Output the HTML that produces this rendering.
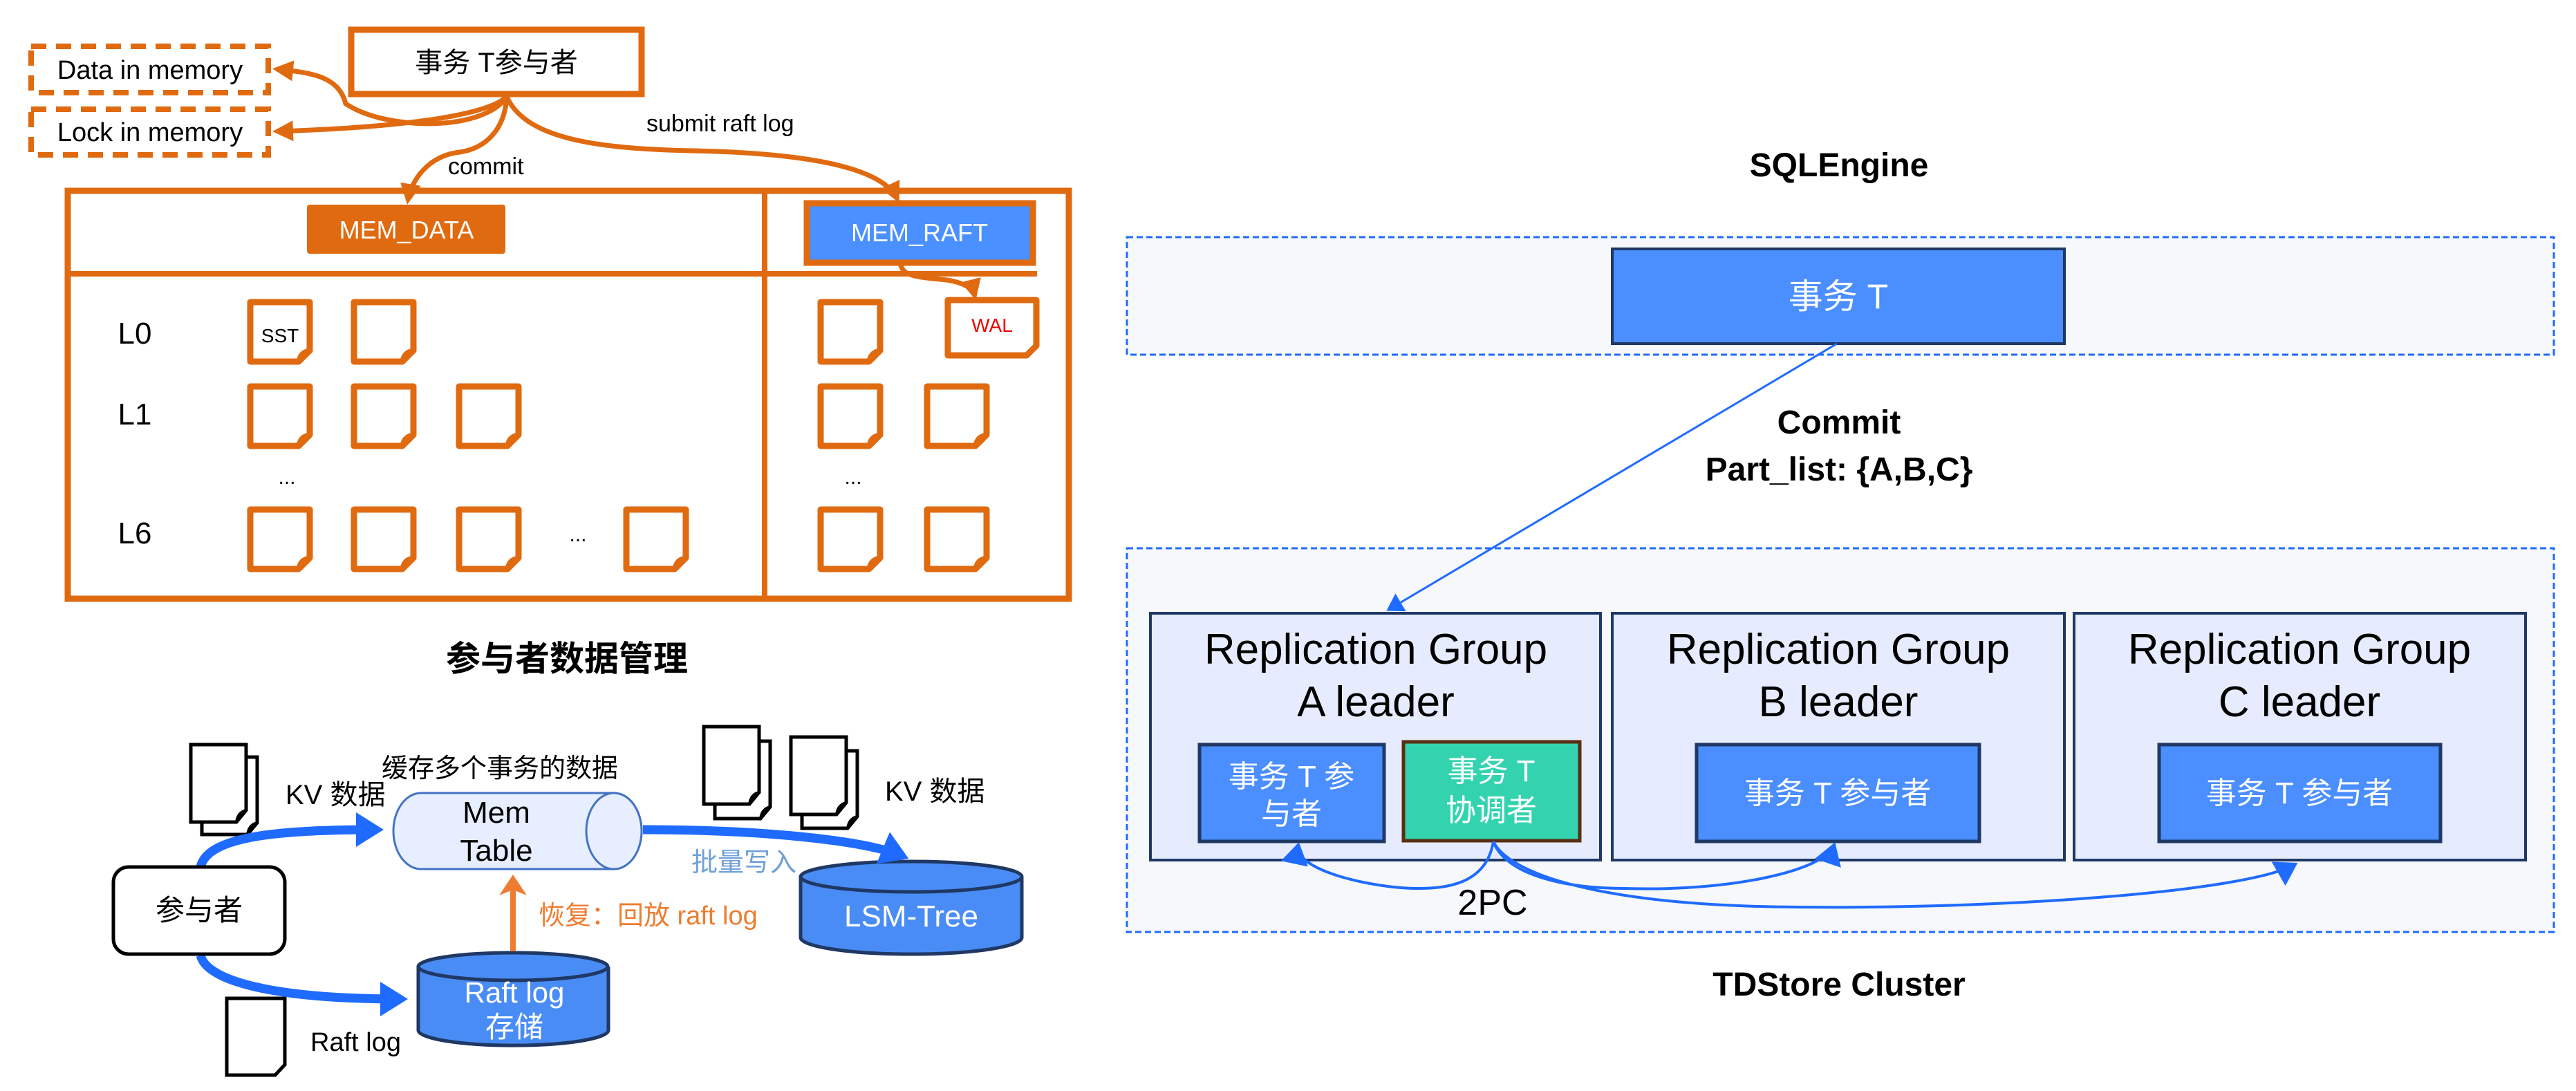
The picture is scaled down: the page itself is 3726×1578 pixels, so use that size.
<!DOCTYPE html>
<html><head><meta charset="utf-8"><style>
html,body{margin:0;padding:0;background:#fff;}
svg{display:block;}
text{font-family:"Liberation Sans","Noto Sans CJK SC",sans-serif;}
</style></head><body>
<svg width="3726" height="1578" viewBox="0 0 3726 1578" xmlns="http://www.w3.org/2000/svg">
<defs>
<marker id="ao" markerWidth="34" markerHeight="34" refX="24" refY="17" orient="auto" markerUnits="userSpaceOnUse"><path d="M0,2 L30,17 L0,32 Z" fill="#E06A10"/></marker>
<marker id="ab" markerWidth="44" markerHeight="50" refX="30" refY="25" orient="auto" markerUnits="userSpaceOnUse"><path d="M0,0 L40,25 L0,50 Z" fill="#1F6BFF"/></marker>
<marker id="ab2" markerWidth="10" markerHeight="10" refX="7" refY="5" orient="auto" markerUnits="strokeWidth"><path d="M0,0 L8,5 L0,10 Z" fill="#1F6BFF"/></marker>
<marker id="aor" markerWidth="34" markerHeight="40" refX="20" refY="20" orient="auto" markerUnits="userSpaceOnUse"><path d="M0,0 L30,20 L0,40 L8,20 Z" fill="#ED7D31"/></marker>
<g id="doc"><path d="M4,4 H90 V74 L74,90 H4 Z" fill="#fff" stroke="#E06A10" stroke-width="9" stroke-linejoin="round"/><path d="M74,90 Q76,76 90,74" fill="none" stroke="#E06A10" stroke-width="7"/></g>
<g id="kdoc"><path d="M0,0 H80 V95 L66,112 H0 Z" fill="#fff" stroke="#000" stroke-width="5"/><path d="M66,112 Q68,98 80,95" fill="none" stroke="#000" stroke-width="4"/></g>
</defs>

<!-- LEFT TOP -->
<rect x="508" y="43" width="420" height="93" fill="#fff" stroke="#E06A10" stroke-width="9"/>
<text x="718" y="104" font-size="40" text-anchor="middle">事务 T参与者</text>
<rect x="45" y="67" width="343" height="67" fill="none" stroke="#E06A10" stroke-width="8" stroke-dasharray="22,14"/>
<text x="217" y="114" font-size="38" text-anchor="middle">Data in memory</text>
<rect x="45" y="158" width="343" height="66" fill="none" stroke="#E06A10" stroke-width="8" stroke-dasharray="22,14"/>
<text x="217" y="204" font-size="38" text-anchor="middle">Lock in memory</text>

<g fill="none" stroke="#E06A10" stroke-width="7">
<path d="M733,140 C700,190 560,190 500,150 C490,110 450,105 400,100" marker-end="url(#ao)"/>
<path d="M733,140 C700,170 560,185 400,190" marker-end="url(#ao)"/>
<path d="M733,140 C730,190 700,215 665,220 C620,225 595,260 590,290" marker-end="url(#ao)"/>
<path d="M733,140 C760,200 860,215 1000,218 C1200,222 1280,250 1298,288" marker-end="url(#ao)"/>
<path d="M1302,372 C1300,400 1320,400 1370,405 C1400,410 1408,420 1410,428" marker-end="url(#ao)"/>
</g>
<text x="648" y="252" font-size="34">commit</text>
<text x="935" y="190" font-size="34">submit raft log</text>

<rect x="98" y="276" width="1448" height="590" fill="none" stroke="#E06A10" stroke-width="9"/>
<line x1="1106" y1="276" x2="1106" y2="866" stroke="#E06A10" stroke-width="8"/>
<line x1="98" y1="396" x2="1500" y2="396" stroke="#E06A10" stroke-width="8"/>
<rect x="444" y="296" width="287" height="71" rx="4" fill="#E06A10"/>
<text x="588" y="345" font-size="36" fill="#fff" text-anchor="middle">MEM_DATA</text>
<rect x="1167" y="294" width="327" height="86" fill="#4A90FF" stroke="#E06A10" stroke-width="9"/>
<text x="1330" y="349" font-size="36" fill="#fff" text-anchor="middle">MEM_RAFT</text>

<text x="195" y="497" font-size="44" text-anchor="middle">L0</text>
<text x="195" y="614" font-size="44" text-anchor="middle">L1</text>
<text x="195" y="786" font-size="44" text-anchor="middle">L6</text>
<text x="415" y="700" font-size="30" text-anchor="middle">...</text>
<text x="1234" y="700" font-size="30" text-anchor="middle">...</text>
<text x="836" y="783" font-size="30" text-anchor="middle">...</text>

<use href="#doc" x="358" y="433"/><use href="#doc" x="508" y="433"/>
<text x="405" y="495" font-size="28" text-anchor="middle">SST</text>
<use href="#doc" x="358" y="555"/><use href="#doc" x="508" y="555"/><use href="#doc" x="660" y="555"/>
<use href="#doc" x="358" y="733"/><use href="#doc" x="508" y="733"/><use href="#doc" x="660" y="733"/><use href="#doc" x="902" y="733"/>
<use href="#doc" x="1183" y="433"/><use href="#doc" x="1183" y="555"/><use href="#doc" x="1337" y="555"/>
<use href="#doc" x="1183" y="733"/><use href="#doc" x="1337" y="733"/>
<path d="M1371,434 H1499 V500 L1485,514 H1371 Z" fill="#fff" stroke="#E06A10" stroke-width="9" stroke-linejoin="round"/>
<text x="1435" y="480" font-size="28" fill="#E00" text-anchor="middle">WAL</text>

<!-- LEFT BOTTOM -->
<text x="820" y="970" font-size="50" font-weight="bold" text-anchor="middle">参与者数据管理</text>
<text x="552" y="1124" font-size="38">缓存多个事务的数据</text>

<use href="#kdoc" x="292" y="1095"/><use href="#kdoc" x="276" y="1077"/>
<text x="413" y="1163" font-size="40">KV 数据</text>
<use href="#kdoc" x="1034" y="1072"/><use href="#kdoc" x="1018" y="1051"/>
<use href="#kdoc" x="1160" y="1086"/><use href="#kdoc" x="1144" y="1066"/>
<text x="1280" y="1158" font-size="40">KV 数据</text>
<path d="M328,1444 H412 V1540 L398,1555 H328 Z" fill="#fff" stroke="#000" stroke-width="5"/>
<text x="449" y="1520" font-size="38">Raft log</text>

<!-- memtable -->
<path d="M609,1147 H888 A40,55 0 0 1 888,1257 H609 A40,55 0 0 1 609,1147 Z" fill="#E6EEFF" stroke="#4472C4" stroke-width="3"/>
<ellipse cx="888" cy="1202" rx="40" ry="55" fill="#E6EEFF" stroke="#4472C4" stroke-width="3"/>
<text x="718" y="1190" font-size="44" text-anchor="middle">Mem</text>
<text x="718" y="1245" font-size="44" text-anchor="middle">Table</text>

<!-- LSM -->
<path d="M1158,1268 V1356 A160,24 0 0 0 1478,1356 V1268" fill="#4A8CF5" stroke="#1F3864" stroke-width="5"/>
<ellipse cx="1318" cy="1268" rx="160" ry="22" fill="#4A8CF5" stroke="#1F3864" stroke-width="5"/>
<text x="1318" y="1340" font-size="44" fill="#fff" text-anchor="middle">LSM-Tree</text>

<!-- Raft log storage -->
<path d="M605,1398 V1490 A137,22 0 0 0 880,1490 V1398" fill="#4A8CF5" stroke="#1F3864" stroke-width="5"/>
<ellipse cx="742" cy="1398" rx="137" ry="20" fill="#4A8CF5" stroke="#1F3864" stroke-width="5"/>
<text x="744" y="1450" font-size="42" fill="#fff" text-anchor="middle">Raft log</text>
<text x="744" y="1500" font-size="42" fill="#fff" text-anchor="middle">存储</text>

<g fill="none" stroke="#1F6BFF" stroke-width="13">
<path d="M290,1254 C300,1210 400,1200 545,1200" marker-end="url(#ab)"/>
<path d="M930,1200 C1100,1200 1250,1215 1305,1238" marker-end="url(#ab)"/>
<path d="M290,1382 C300,1420 400,1445 580,1445" marker-end="url(#ab)"/>
</g>
<path d="M742,1376 V1275" stroke="#ED7D31" stroke-width="8" fill="none" marker-end="url(#aor)"/>
<text x="1000" y="1260" font-size="38" fill="#6FA0D8">批量写入</text>
<text x="779" y="1337" font-size="38" fill="#ED7D31">恢复：回放 raft log</text>
<rect x="164" y="1254" width="248" height="126" rx="22" fill="#fff" stroke="#000" stroke-width="5"/>
<text x="288" y="1331" font-size="42" text-anchor="middle">参与者</text>

<!-- RIGHT -->
<text x="2660" y="255" font-size="48" font-weight="bold" text-anchor="middle">SQLEngine</text>
<rect x="1630" y="343" width="2064" height="170" fill="#F6F8FC" stroke="#1F6BFF" stroke-width="3" stroke-dasharray="9,5"/>
<rect x="2332" y="360" width="654" height="137" fill="#4A8EFF" stroke="#1F3864" stroke-width="4"/>
<text x="2659" y="446" font-size="50" fill="#fff" text-anchor="middle">事务 T</text>
<text x="2660" y="627" font-size="48" font-weight="bold" text-anchor="middle">Commit</text>
<text x="2660" y="695" font-size="48" font-weight="bold" text-anchor="middle">Part_list: {A,B,C}</text>

<rect x="1630" y="793" width="2064" height="555" fill="#F6F8FC" stroke="#1F6BFF" stroke-width="3" stroke-dasharray="9,5"/>
<path d="M2657,497 L2008,882" stroke="#1F6BFF" stroke-width="3" fill="none" marker-end="url(#ab2)"/>

<g fill="#E6ECFD" stroke="#1F3864" stroke-width="4">
<rect x="1664" y="887" width="651" height="357"/>
<rect x="2332" y="887" width="654" height="357"/>
<rect x="3000" y="887" width="653" height="357"/>
</g>
<g font-size="62" text-anchor="middle">
<text x="1990" y="960">Replication Group</text><text x="1990" y="1036">A leader</text>
<text x="2659" y="960">Replication Group</text><text x="2659" y="1036">B leader</text>
<text x="3326" y="960">Replication Group</text><text x="3326" y="1036">C leader</text>
</g>
<rect x="1735" y="1077" width="267" height="140" fill="#4A8EFF" stroke="#1F3864" stroke-width="5"/>
<text x="1868" y="1138" font-size="44" fill="#fff" text-anchor="middle">事务 T 参</text>
<text x="1868" y="1192" font-size="44" fill="#fff" text-anchor="middle">与者</text>
<rect x="2030" y="1073" width="255" height="143" fill="#33D3B0" stroke="#5A2E10" stroke-width="5"/>
<text x="2157" y="1130" font-size="44" fill="#fff" text-anchor="middle">事务 T</text>
<text x="2157" y="1187" font-size="44" fill="#fff" text-anchor="middle">协调者</text>
<rect x="2454" y="1077" width="409" height="140" fill="#4A8EFF" stroke="#1F3864" stroke-width="5"/>
<text x="2658" y="1162" font-size="44" fill="#fff" text-anchor="middle">事务 T 参与者</text>
<rect x="3123" y="1077" width="407" height="140" fill="#4A8EFF" stroke="#1F3864" stroke-width="5"/>
<text x="3326" y="1162" font-size="44" fill="#fff" text-anchor="middle">事务 T 参与者</text>

<g fill="none" stroke="#1F6BFF" stroke-width="4">
<path d="M2160,1217 C2150,1280 2090,1285 2050,1285 C1990,1285 1870,1260 1878,1222" marker-end="url(#ab2)"/>
<path d="M2160,1217 C2175,1260 2250,1285 2350,1285 C2500,1290 2640,1260 2653,1222" marker-end="url(#ab2)"/>
<path d="M2160,1217 C2180,1260 2300,1310 2600,1312 C2900,1315 3250,1290 3320,1250" marker-end="url(#ab2)"/>
</g>
<text x="2159" y="1323" font-size="52" text-anchor="middle">2PC</text>
<text x="2660" y="1440" font-size="48" font-weight="bold" text-anchor="middle">TDStore Cluster</text>
</svg>
</body></html>
